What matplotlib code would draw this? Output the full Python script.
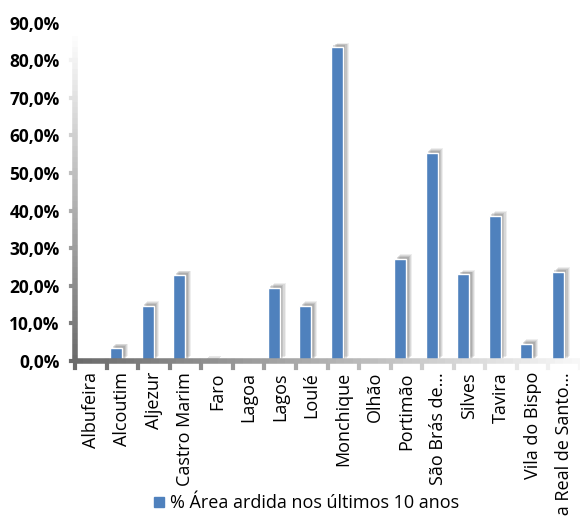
import numpy as np
import matplotlib
matplotlib.use("Agg")
import matplotlib.pyplot as plt
from matplotlib.collections import LineCollection
from matplotlib.lines import Line2D
import matplotlib.patheffects as pe

plt.rcParams['font.family'] = ['Open Sans', 'DejaVu Sans']

concelhos = ["Albufeira", "Alcoutim", "Aljezur", "Castro Marim", "Faro", "Lagoa",
             "Lagos", "Loulé", "Monchique", "Olhão", "Portimão", "São Brás de…",
             "Silves", "Tavira", "Vila do Bispo", "Vila Real de Santo…"]
area_ardida = [0.0, 3.4, 14.7, 22.8, 0.2, 0.0, 19.4, 14.7, 83.4, 0.0, 27.2, 55.4,
               23.0, 38.6, 4.5, 23.7]
yticks = list(range(0, 91, 10))
serie = "% Área ardida nos últimos 10 anos"

blue = "#4F81BD"

fig = plt.figure(figsize=(5.8, 5.17), dpi=100)
ax = fig.add_axes([75 / 580, 156 / 517, 505 / 580, 338.5 / 517])

x = np.arange(len(concelhos))
# soft shadow towards the upper right
shadow = []
for dx, a in [(4.2, 0.10), (3.4, 0.14), (2.6, 0.18), (1.8, 0.22)]:
    shadow.append(pe.SimplePatchShadow(offset=(dx, dx * 0.8), shadow_rgbFace="#606060",
                                       alpha=a))
shadow.append(pe.Normal())
bars = ax.bar(x - 0.2, area_ardida, width=0.38, color=blue, edgecolor="white",
              linewidth=1.0, zorder=3)
for b in bars:
    if b.get_height() > 0:
        b.set_path_effects(shadow)

ax.set_xlim(-0.5, len(concelhos) - 0.5)
ax.set_ylim(0, 90)
for s in ax.spines.values():
    s.set_visible(False)
ax.set_yticks(yticks)
ax.set_yticklabels([f"{v},0%" for v in yticks], fontweight="bold", fontsize=12.5)
ax.set_xticks(x)
ax.set_xticklabels(concelhos, rotation=90, fontsize=13)
ax.tick_params(axis="both", length=0)
ax.tick_params(axis="y", pad=11)
ax.tick_params(axis="x", pad=8)

def grey(v):
    v = min(max(v, 0.0), 1.0)
    return (v, v, v)

# gradient y axis (dark at bottom, fading upward)
n = 60
ys = np.linspace(0, 88, n + 1)
segs = [[(-0.5, ys[i]), (-0.5, ys[i + 1])] for i in range(n)]
shades = np.linspace(0.42, 1.0, n)
lc = LineCollection(segs, colors=[grey(c) for c in shades], linewidths=4,
                    clip_on=False, zorder=2)
ax.add_collection(lc)
for v in yticks:
    ax.add_line(Line2D([-0.62, -0.5], [v, v], color=grey(0.42 + 0.58 * v / 88), lw=3,
                       clip_on=False))

# gradient x axis (dark at left, fading right)
xs = np.linspace(-0.5, len(concelhos) - 0.5, n + 1)
segs = [[(xs[i], 0), (xs[i + 1], 0)] for i in range(n)]
shades = np.linspace(0.42, 0.97, n)
lc = LineCollection(segs, colors=[grey(c) for c in shades], linewidths=4,
                    clip_on=False, zorder=4)
ax.add_collection(lc)
for i in range(len(concelhos) + 1):
    ax.add_line(Line2D([i - 0.5, i - 0.5], [0, -1.8],
                       color=grey(0.42 + 0.55 * i / len(concelhos)), lw=3, clip_on=False))

handle = Line2D([], [], marker="s", linestyle="none", color=blue, markersize=7.5)
fig.legend([handle], [serie], loc="center", bbox_to_anchor=(0.525, 0.027),
           frameon=False, fontsize=13, handletextpad=0.1, handlelength=1.0)

fig.savefig("out.png", dpi=100)
